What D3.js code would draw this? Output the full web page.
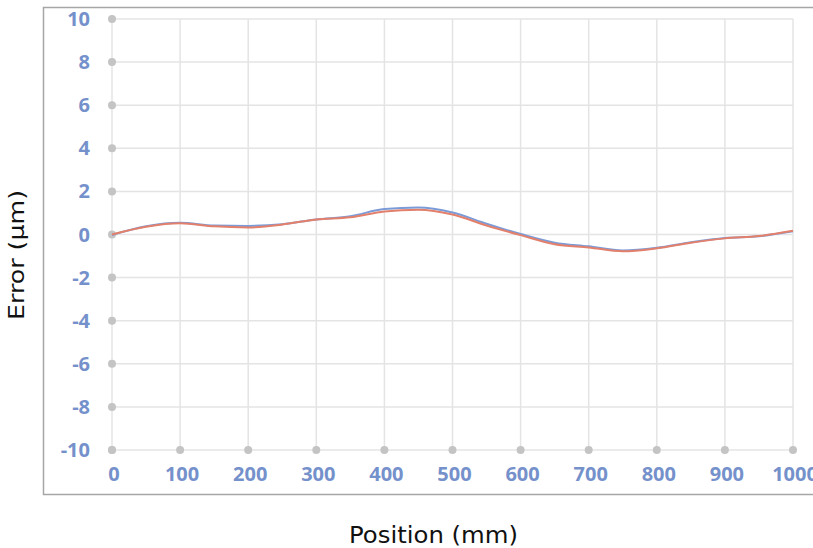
<!DOCTYPE html>
<html>
<head>
<meta charset="utf-8">
<script src="https://cdn.jsdelivr.net/npm/d3@7"></script>
<style>
  body { margin: 0; background: #fff; overflow: hidden; }
  svg { display: block; }
</style>
</head>
<body>
<div class="svg-container"></div>
<script>
// data
const positions = [0, 50, 100, 150, 200, 250, 300, 350, 400, 450, 500,
  550, 600, 650, 700, 750, 800, 850, 900, 950, 1000];
const errorBlue = [-0.02, 0.38, 0.54, 0.42, 0.40, 0.48, 0.70, 0.85, 1.18, 1.25, 1.02,
  0.50, 0.02, -0.38, -0.55, -0.74, -0.62, -0.36, -0.16, -0.08, 0.15];
const errorRed = [0.00, 0.36, 0.52, 0.38, 0.33, 0.46, 0.70, 0.80, 1.07, 1.15, 0.93,
  0.42, -0.03, -0.45, -0.60, -0.78, -0.64, -0.38, -0.18, -0.07, 0.17];
const xTicks = [0, 100, 200, 300, 400, 500, 600, 700, 800, 900, 1000];
const yTicks = [-10, -8, -6, -4, -2, 0, 2, 4, 6, 8, 10];

const width = 813, height = 548;
const plot = { left: 112, right: 793, top: 19, bottom: 450 };

const svg = d3.select(".svg-container")
  .append("svg")
  .attr("width", width)
  .attr("height", height);

// outer frame (runs off the right edge, as in the picture)
svg.append("path")
  .attr("d", "M" + (width + 5) + ",7.5 H43.5 V494.5 H" + (width + 5))
  .attr("fill", "none")
  .attr("stroke", "#a6a6a6")
  .attr("stroke-width", 1.5);

const xScale = d3.scaleLinear().domain([0, 1000]).range([plot.left, plot.right]);
const yScale = d3.scaleLinear().domain([-10, 10]).range([plot.bottom, plot.top]);

// GRID
svg.append("g")
  .selectAll("line")
  .data(xTicks)
  .enter()
  .append("line")
  .attr("x1", d => xScale(d))
  .attr("x2", d => xScale(d))
  .attr("y1", plot.top)
  .attr("y2", plot.bottom)
  .attr("stroke", "#e4e4e4")
  .attr("stroke-width", 1.5);

svg.append("g")
  .selectAll("line")
  .data(yTicks)
  .enter()
  .append("line")
  .attr("x1", plot.left)
  .attr("x2", plot.right)
  .attr("y1", d => yScale(d))
  .attr("y2", d => yScale(d))
  .attr("stroke", "#e4e4e4")
  .attr("stroke-width", 1.5);

// tick dots
svg.append("g")
  .selectAll("circle")
  .data(yTicks)
  .enter()
  .append("circle")
  .attr("cx", xScale(0))
  .attr("cy", d => yScale(d))
  .attr("r", 4)
  .attr("fill", "#c4c4c4");

svg.append("g")
  .selectAll("circle")
  .data(xTicks)
  .enter()
  .append("circle")
  .attr("cx", d => xScale(d))
  .attr("cy", yScale(-10))
  .attr("r", 4)
  .attr("fill", "#c4c4c4");

// tick labels
const labelFont = "'Open Sans', sans-serif";
svg.append("g")
  .selectAll("text")
  .data(yTicks)
  .enter()
  .append("text")
  .attr("x", 90)
  .attr("y", d => yScale(d))
  .attr("dy", "0.35em")
  .attr("text-anchor", "end")
  .style("font-family", labelFont)
  .style("font-weight", "bold")
  .style("font-size", "20px")
  .style("fill", "#7591cb")
  .text(d => d);

svg.append("g")
  .selectAll("text")
  .data(xTicks)
  .enter()
  .append("text")
  .attr("x", d => xScale(d) + 2)
  .attr("y", 474)
  .attr("dy", "0.35em")
  .attr("text-anchor", "middle")
  .style("font-family", labelFont)
  .style("font-weight", "bold")
  .style("font-size", "20px")
  .style("fill", "#7591cb")
  .text(d => d);

// LINES
const line = d3.line()
  .x((d, i) => xScale(positions[i]))
  .y(d => yScale(d))
  .curve(d3.curveMonotoneX);

svg.append("path")
  .datum(errorBlue)
  .attr("d", line)
  .attr("fill", "none")
  .attr("stroke", "#7b9bd8")
  .attr("stroke-width", 2);

svg.append("path")
  .datum(errorRed)
  .attr("d", line)
  .attr("fill", "none")
  .attr("stroke", "#e2806c")
  .attr("stroke-width", 2);

// axis titles
svg.append("text")
  .attr("x", 349)
  .attr("y", 543)
  .attr("textLength", 169)
  .attr("lengthAdjust", "spacingAndGlyphs")
  .style("font-family", "'DejaVu Sans', sans-serif")
  .style("font-size", "23px")
  .style("fill", "#111")
  .text("Position (mm)");

svg.append("text")
  .attr("transform", "translate(24,320) rotate(-90)")
  .attr("textLength", 130)
  .attr("lengthAdjust", "spacingAndGlyphs")
  .style("font-family", "'DejaVu Sans', sans-serif")
  .style("font-size", "21px")
  .style("fill", "#111")
  .text("Error (µm)");
</script>
</body>
</html>
